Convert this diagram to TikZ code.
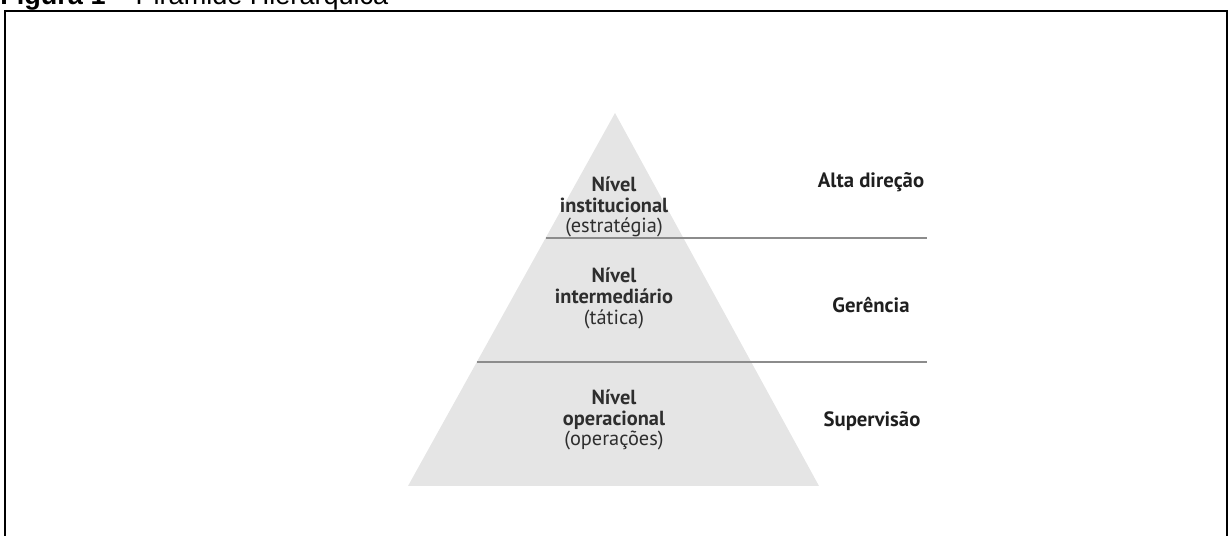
\documentclass[tikz,border=0pt]{standalone}
\usepackage{fontspec}
\setmainfont{PT Sans}
\newfontfamily\titlefont{Liberation Sans}
\usetikzlibrary{positioning, calc}

\begin{document}
\begin{tikzpicture}[x=0.02cm, y=-0.02cm,
    % Shape styles
    pyramid/.style={fill=black!10, draw=none},
    divider/.style={draw=black!45, line width=0.8pt},
    frame/.style={draw=black, line width=1.2pt},
    % Text styles
    level/.style={align=center, inner sep=0pt, text=black!82, font=\fontsize{11.6}{11.9}\selectfont},
    role/.style={inner sep=0pt, text=black!88, font=\fontsize{11.8}{12}\selectfont\bfseries}
]
\useasboundingbox (0,0) rectangle (1231,536);
% Title and frame
\node[anchor=base west, inner sep=0pt, font=\titlefont\fontsize{15.4}{17}\selectfont] (title) at (0,5) {\textbf{Figura 1} – Pirâmide Hierárquica};
\draw[frame] (5,545) -- (5,11) -- (1227,11) -- (1227,545);
% Pyramid
\coordinate (apex) at (615,113);
\coordinate (bl) at (408,486);
\coordinate (br) at (819,486);
\fill[pyramid] (apex) -- (br) -- (bl) -- cycle;
% Dividers
\coordinate (rend) at (927,0);
\coordinate (d1) at ($(apex)!0.335!(bl)$);
\coordinate (d2) at ($(apex)!0.668!(bl)$);
\draw[divider] (d1) -- (d1 -| rend);
\draw[divider] (d2) -- (d2 -| rend);
% Level texts
\node[level] (top) at (614,207) {\textbf{Nível}\\\textbf{institucional}\\(estratégia)};
\node[level] (mid) at (614,298) {\textbf{Nível}\\\textbf{intermediário}\\(tática)};
\node[level] (low) at (614,420) {\textbf{Nível}\\\textbf{operacional}\\(operações)};
% Role labels
\node[role] (alta) at (871,182) {Alta direção};
\node[role] (ger) at (871,305) {Gerência};
\node[role] (sup) at (872,421) {Supervisão};
\end{tikzpicture}
\end{document}
